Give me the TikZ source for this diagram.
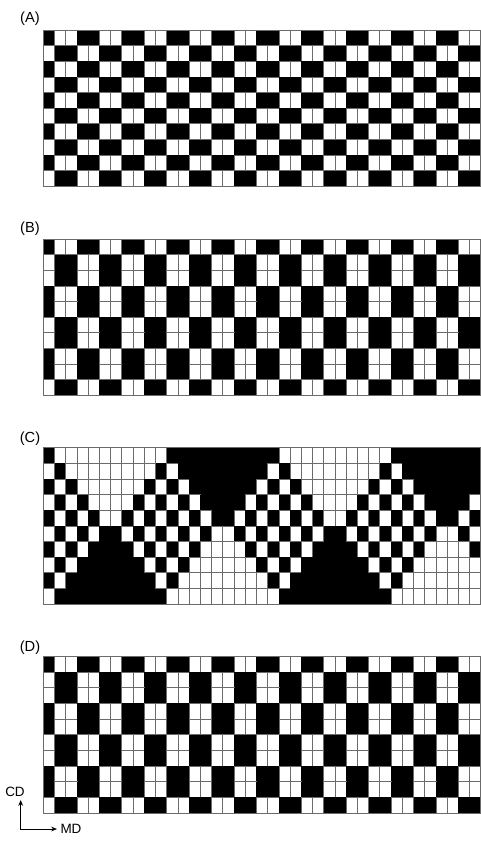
\documentclass[tikz,border=0pt]{standalone}
\usepackage{fontspec}
\setmainfont{Liberation Sans}
\usetikzlibrary{arrows.meta}
\tikzset{>={Stealth[length=5pt,width=4pt]}}
\definecolor{gridgray}{gray}{0.42}
\tikzstyle{warp}=[fill=black]
\tikzstyle{weft}=[draw=gridgray, line width=0.7pt, fill=white]
\tikzstyle{frame}=[draw=gridgray, line width=0.8pt]
\tikzstyle{tag}=[font=\fontsize{12.5}{14}\selectfont, inner sep=0pt]
\tikzstyle{dirtag}=[font=\fontsize{11.5}{13}\selectfont, inner sep=0pt]
\tikzstyle{axis}=[<->, line width=0.6pt]

\newcommand{\cellw}{11.22}
\newcommand{\cellh}{15.65}
% black/white rule of the four weaves
\newcommand{\ruleA}{\pgfmathtruncatemacro\blk{1-mod(floor((\col+1)/2)+\row,2)}}
\newcommand{\ruleB}{\pgfmathtruncatemacro\blk{1-mod(floor((\col+1)/2)+floor((\row+1)/2),2)}}
\newcommand{\ruleC}{%
  \pgfmathtruncatemacro\grp{floor((\col+19)/10)}%
  \pgfmathsetmacro\dist{abs(\col-10*\grp+14.5)}%
  \pgfmathtruncatemacro\zone{floor((\col+14)/10)}%
  \pgfmathtruncatemacro\blk{mod(\row+\col+\zone,2)}%
  \pgfmathtruncatemacro\inup{and(\row<5,\dist<=4.5-\row)}%
  \pgfmathtruncatemacro\indown{and(\row>4,\dist<=\row-4.5)}%
  \ifnum\inup=1 \pgfmathtruncatemacro\blk{mod(\grp,2)}\fi
  \ifnum\indown=1 \pgfmathtruncatemacro\blk{1-mod(\grp,2)}\fi
}
\newcommand{\weave}[2]{%
  \foreach \row in {0,...,9}{%
    \foreach \col in {0,...,38}{%
      #2%
      \ifnum\blk=1
        \fill[warp] ({43.3+\col*\cellw},{#1+\row*\cellh}) rectangle ++(\cellw,\cellh);
      \else
        \draw[weft] ({43.3+\col*\cellw},{#1+\row*\cellh}) rectangle ++(\cellw,\cellh);
      \fi
    }%
  }%
  \draw[frame] (43.3,#1) rectangle ++({39*\cellw},{10*\cellh});
}

\begin{document}
\begin{tikzpicture}[x=0.03cm,y=-0.03cm]
\useasboundingbox (0,0) rectangle (481,845);

\node[tag] (labA) at (30,18.5) {(A)};
\weave{30}{\ruleA}

\node[tag] (labB) at (30,228.5) {(B)};
\weave{239}{\ruleB}

\node[tag] (labC) at (30,439) {(C)};
\weave{447.7}{\ruleC}

\node[tag] (labD) at (30,648) {(D)};
\weave{656.5}{\ruleB}

% directions
\node[dirtag] (cd) at (15,792) {CD};
\node[dirtag] (md) at (71,829) {MD};
\coordinate (cdtip) at (20.7,800);
\coordinate (mdtip) at (57,829);
\draw[axis] (cdtip) |- (mdtip);

\end{tikzpicture}
\end{document}
